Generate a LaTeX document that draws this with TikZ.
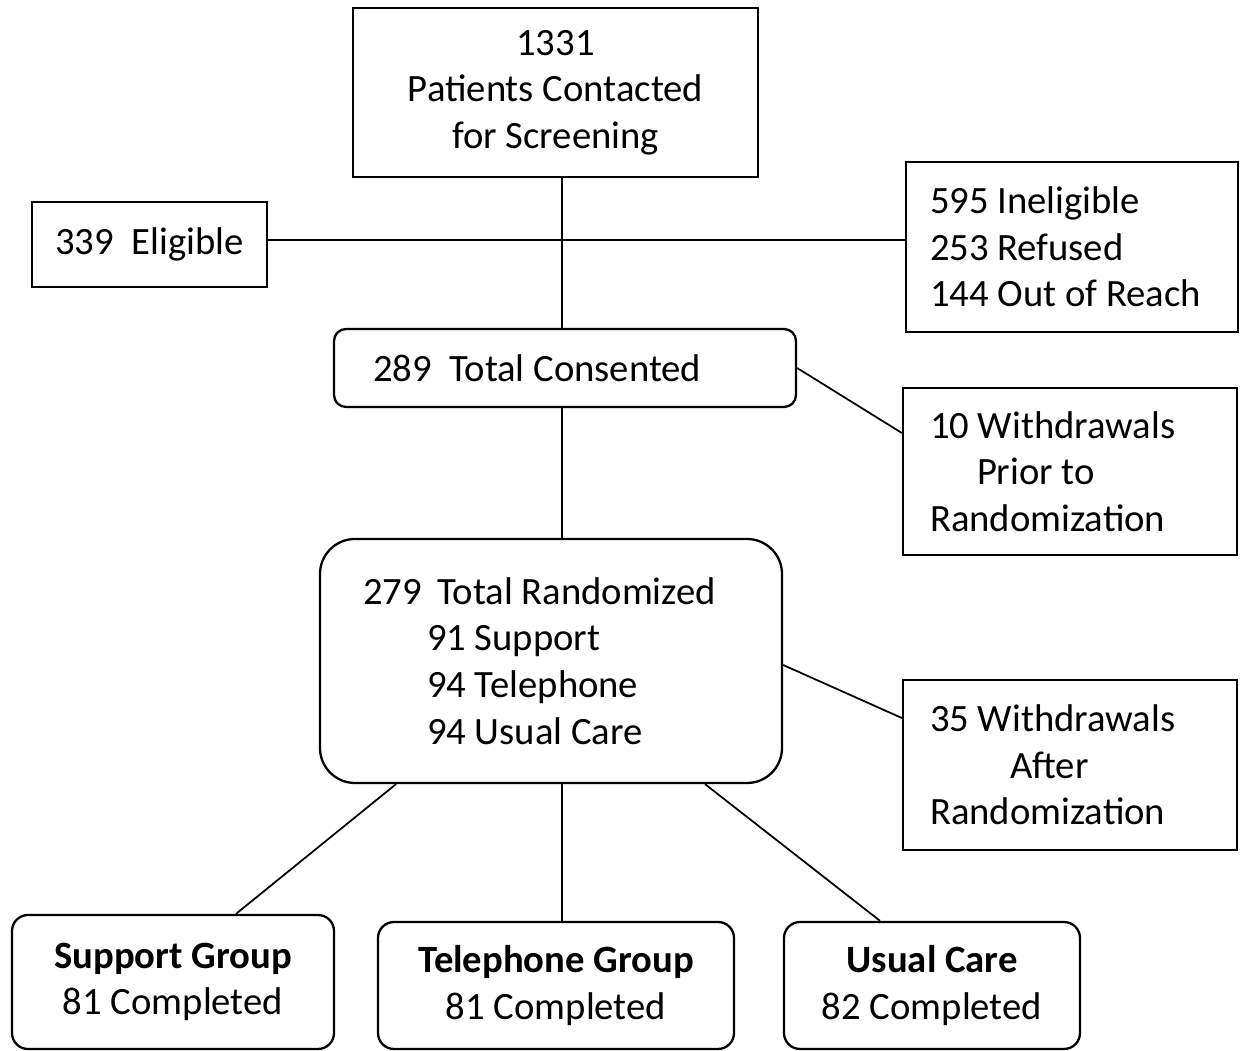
\documentclass[tikz,border=0pt]{standalone}
\usepackage{fontspec}
\setmainfont{Carlito}

\tikzset{
  boxsq/.style={shape=rectangle,draw,line width=1.3pt,inner sep=0pt,font=\fontsize{22}{26.5}\selectfont},
  boxrd/.style={boxsq,rounded corners=0.32cm},
  link/.style={line width=1pt}
}

\begin{document}
\begin{tikzpicture}
    \useasboundingbox (0,0) rectangle (24.88,21.02);
    \node[boxsq,minimum width=8.1cm,minimum height=3.38cm,align=center] (screen) at (11.11,19.17) {1331\\Patients Contacted\\for Screening};
    \node[boxsq,minimum width=4.7cm,minimum height=1.7cm] (elig) at (2.99,16.13) {339\hspace{0.45em}Eligible};
    \node[boxsq,minimum height=3.4cm,text width=5.68cm,inner xsep=0.48cm,align=flush left] (inel) at (21.44,16.08) {595 Ineligible\\253 Refused\\144 Out of Reach};
    \node[boxrd,rounded corners=0.24cm,minimum height=1.56cm,text width=7.68cm,inner xsep=0.78cm,align=flush left] (cons) at (11.3,13.66) {289\hspace{0.45em}Total Consented};
    \node[boxsq,minimum height=3.34cm,text width=5.6cm,inner xsep=0.54cm,align=flush left] (wdpre) at (21.4,11.59) {10 Withdrawals\\\hspace*{0.94cm}Prior to\\Randomization};
    \node[boxrd,rounded corners=0.7cm,minimum height=4.88cm,text width=7.52cm,inner xsep=0.86cm,align=flush left] (rand) at (11.02,7.8) {279\hspace{0.4em}Total Randomized\\\hspace*{1.28cm}91 Support\\\hspace*{1.28cm}94 Telephone\\\hspace*{1.28cm}94 Usual Care};
    \node[boxsq,minimum height=3.4cm,text width=5.6cm,inner xsep=0.54cm,align=flush left] (wdpost) at (21.4,5.72) {35 Withdrawals\\\hspace*{1.6cm}After\\Randomization};
    \node[boxrd,minimum width=6.44cm,minimum height=2.68cm,align=center] (grpsup) at (3.46,1.38) {\textbf{Support Group}\\81 Completed};
    \node[boxrd,minimum width=7.12cm,minimum height=2.54cm,align=center] (grptel) at (11.12,1.31) {\textbf{Telephone Group}\\81 Completed};
    \node[boxrd,minimum width=5.92cm,minimum height=2.54cm,align=center] (grpusu) at (18.64,1.31) {\textbf{Usual Care}\\82 Completed};
    \coordinate (spine) at (11.24,16.22);
    \draw[link] (screen.south -| spine) -- (cons.north -| spine);
    \draw[link] (spine -| elig.east) -- (spine -| inel.west);
    \draw[link] (cons.south -| spine) -- (rand.north -| spine);
    \draw[link] (cons.east) -- ([yshift=0.77cm]wdpre.west);
    \draw[link] ([yshift=-0.08cm]rand.east) -- ([yshift=0.94cm]wdpost.west);
    \draw[link] ([xshift=-3.1cm]rand.south) -- ([xshift=1.26cm]grpsup.north);
    \draw[link] (rand.south -| spine) -- (grptel.north -| spine);
    \draw[link] ([xshift=3.08cm]rand.south) -- ([xshift=-1.04cm]grpusu.north);
\end{tikzpicture}
\end{document}
